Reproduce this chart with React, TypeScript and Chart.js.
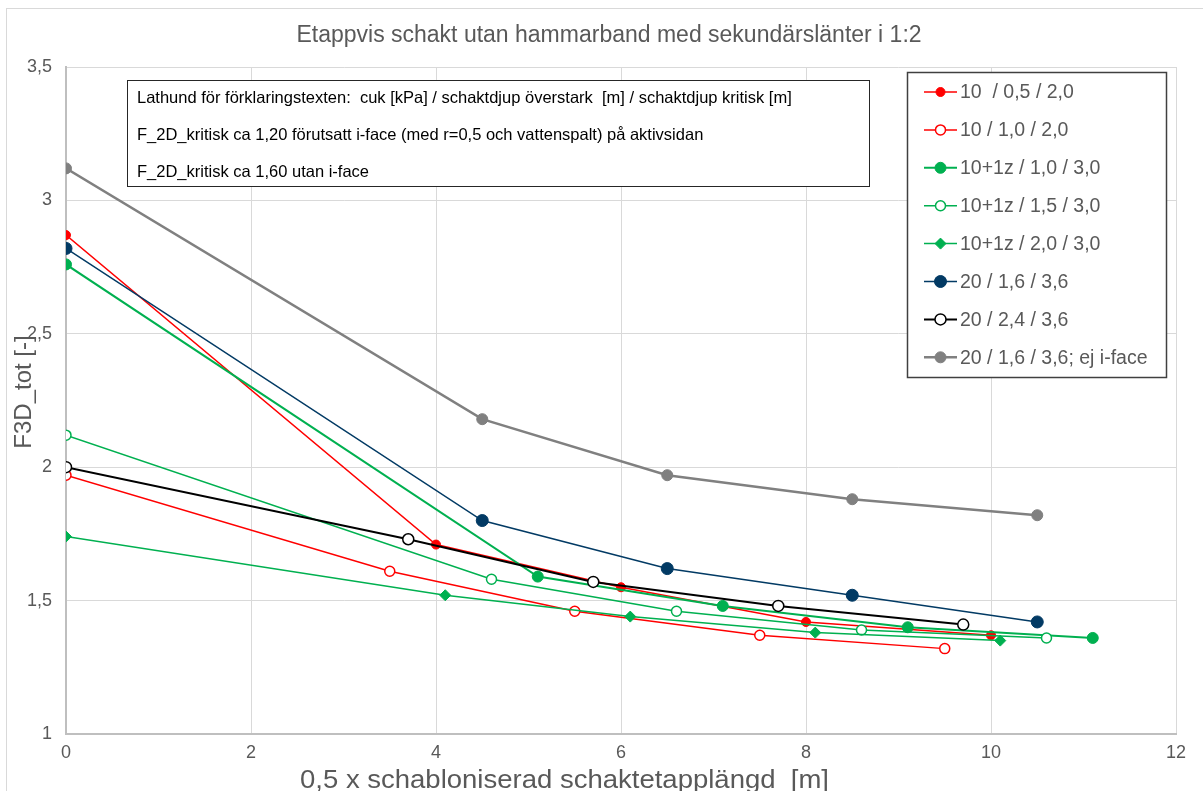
import React, { useEffect, useRef } from 'react';
import { Chart, registerables } from 'chart.js';

Chart.register(...registerables);

const W = 1203;
const H = 791;

const chartTitle = 'Etappvis schakt utan hammarband med sekundärslänter i 1:2';
const xTitle = '0,5 x schabloniserad schaktetapplängd  [m]';
const yTitle = 'F3D_tot [-]';
const noteLines = [
  'Lathund för förklaringstexten:  cuk [kPa] / schaktdjup överstark  [m] / schaktdjup kritisk [m]',
  'F_2D_kritisk ca 1,20 förutsatt i-face (med r=0,5 och vattenspalt) på aktivsidan',
  'F_2D_kritisk ca 1,60 utan i-face',
];

const xTicks = [0, 2, 4, 6, 8, 10, 12];
const yTicks = [1, 1.5, 2, 2.5, 3, 3.5];

const seriesLabels = [
  '10  / 0,5 / 2,0',
  '10 / 1,0 / 2,0',
  '10+1z / 1,0 / 3,0',
  '10+1z / 1,5 / 3,0',
  '10+1z / 2,0 / 3,0',
  '20 / 1,6 / 3,6',
  '20 / 2,4 / 3,6',
  '20 / 1,6 / 3,6; ej i-face',
];

const s1x = [0, 4, 6, 8, 10];
const s1y = [2.87, 1.71, 1.55, 1.42, 1.37];
const s2x = [0, 3.5, 5.5, 7.5, 9.5];
const s2y = [1.97, 1.61, 1.46, 1.37, 1.32];
const s3x = [0, 5.1, 7.1, 9.1, 11.1];
const s3y = [2.76, 1.59, 1.48, 1.4, 1.36];
const s4x = [0, 4.6, 6.6, 8.6, 10.6];
const s4y = [2.12, 1.58, 1.46, 1.39, 1.36];
const s5x = [0, 4.1, 6.1, 8.1, 10.1];
const s5y = [1.74, 1.52, 1.44, 1.38, 1.35];
const s6x = [0, 4.5, 6.5, 8.5, 10.5];
const s6y = [2.82, 1.8, 1.62, 1.52, 1.42];
const s7x = [0, 3.7, 5.7, 7.7, 9.7];
const s7y = [2.0, 1.73, 1.57, 1.48, 1.41];
const s8x = [0, 4.5, 6.5, 8.5, 10.5];
const s8y = [3.12, 2.18, 1.97, 1.88, 1.82];

const seriesX = [s1x, s2x, s3x, s4x, s5x, s6x, s7x, s8x];
const seriesY = [s1y, s2y, s3y, s4y, s5y, s6y, s7y, s8y];

const RED = '#FF0000';
const GREEN = '#00B050';
const NAVY = '#023A64';
const GRAY = '#808080';
const BLACK = '#000000';

type Style = { color: string; lw: number; r: number; fill: string; shape: string };
const styles: Style[] = [
  { color: RED, lw: 1.5, r: 4.5, fill: RED, shape: 'circle' },
  { color: RED, lw: 1.5, r: 5, fill: '#FFFFFF', shape: 'circle' },
  { color: GREEN, lw: 2, r: 5.5, fill: GREEN, shape: 'circle' },
  { color: GREEN, lw: 1.5, r: 5, fill: '#FFFFFF', shape: 'circle' },
  { color: GREEN, lw: 1.5, r: 5.5, fill: GREEN, shape: 'rectRot' },
  { color: NAVY, lw: 1.5, r: 6, fill: NAVY, shape: 'circle' },
  { color: BLACK, lw: 2, r: 5.5, fill: '#FFFFFF', shape: 'circle' },
  { color: GRAY, lw: 2.5, r: 5.5, fill: GRAY, shape: 'circle' },
];

const FONT = '"Liberation Sans", Arial, sans-serif';
const TEXT = '#595959';

const fmt = (v: number) => String(v).replace('.', ',');

function drawMarker(ctx: CanvasRenderingContext2D, s: Style, x: number, y: number) {
  ctx.beginPath();
  if (s.shape === 'rectRot') {
    ctx.moveTo(x, y - s.r);
    ctx.lineTo(x + s.r, y);
    ctx.lineTo(x, y + s.r);
    ctx.lineTo(x - s.r, y);
    ctx.closePath();
  } else {
    ctx.arc(x, y, s.r, 0, Math.PI * 2);
  }
  ctx.fillStyle = s.fill;
  ctx.fill();
  ctx.lineWidth = s.fill === '#FFFFFF' ? 1.5 : 1;
  ctx.strokeStyle = s.color;
  ctx.stroke();
}

function fitText(ctx: CanvasRenderingContext2D, text: string, cx: number, cy: number, width: number) {
  const m = ctx.measureText(text).width;
  const k = m > 0 ? width / m : 1;
  ctx.save();
  ctx.translate(cx, cy);
  ctx.scale(k, 1);
  ctx.textAlign = 'center';
  ctx.fillText(text, 0, 0);
  ctx.restore();
}

const overlayPlugin = {
  id: 'overlay',
  beforeDraw(chart: any) {
    const ctx: CanvasRenderingContext2D = chart.ctx;
    ctx.save();
    ctx.fillStyle = '#FFFFFF';
    ctx.fillRect(0, 0, chart.width, chart.height);
    ctx.strokeStyle = '#D9D9D9';
    ctx.lineWidth = 1;
    ctx.strokeRect(6.5, 8.5, 1300, 900);

    ctx.fillStyle = TEXT;
    ctx.textAlign = 'center';
    ctx.textBaseline = 'middle';
    ctx.font = `23px ${FONT}`;
    ctx.fillText(chartTitle, 609, 36);

    ctx.font = `25px ${FONT}`;
    fitText(ctx, xTitle, 564.5, 781, 529);

    ctx.font = `24px ${FONT}`;
    ctx.translate(24, 392);
    ctx.rotate(-Math.PI / 2);
    ctx.fillText(yTitle, 0, 0);
    ctx.restore();
  },
  afterDraw(chart: any) {
    const ctx: CanvasRenderingContext2D = chart.ctx;
    ctx.save();
    // note box
    ctx.fillStyle = '#FFFFFF';
    ctx.fillRect(127, 80, 742, 106);
    ctx.strokeStyle = '#262626';
    ctx.lineWidth = 1;
    ctx.strokeRect(127.5, 80.5, 742, 106);
    ctx.fillStyle = '#000000';
    ctx.font = `16.5px ${FONT}`;
    ctx.textAlign = 'left';
    ctx.textBaseline = 'middle';
    noteLines.forEach((t, i) => ctx.fillText(t, 137, 98 + i * 37));

    // legend box
    ctx.fillStyle = '#FFFFFF';
    ctx.fillRect(907, 72, 259, 305);
    ctx.strokeStyle = '#404040';
    ctx.lineWidth = 1.5;
    ctx.strokeRect(907.5, 72.5, 259, 305);
    ctx.font = `19.5px ${FONT}`;
    seriesLabels.forEach((label, i) => {
      const s = styles[i];
      const y = 92 + i * 37.9;
      ctx.beginPath();
      ctx.moveTo(924, y);
      ctx.lineTo(957, y);
      ctx.strokeStyle = s.color;
      ctx.lineWidth = s.lw;
      ctx.stroke();
      drawMarker(ctx, s, 940.5, y);
      ctx.fillStyle = TEXT;
      ctx.fillText(label, 960, y + 1);
    });
    ctx.restore();
  },
};

export default function App() {
  const ref = useRef<HTMLCanvasElement | null>(null);

  useEffect(() => {
    if (!ref.current) return;
    const datasets = seriesLabels.map((label, i) => {
      const s = styles[i];
      return {
        label,
        data: seriesX[i].map((x, j) => ({ x, y: seriesY[i][j] })),
        borderColor: s.color,
        backgroundColor: s.fill,
        borderWidth: s.lw,
        pointStyle: s.shape,
        pointRadius: s.r,
        pointBorderWidth: s.fill === '#FFFFFF' ? 1.5 : 1,
        pointBorderColor: s.color,
        pointBackgroundColor: s.fill,
        showLine: true,
        fill: false,
        tension: 0,
        order: seriesLabels.length - i,
      };
    });

    const chart = new Chart(ref.current, {
      type: 'scatter',
      data: { datasets },
      options: {
        animation: false,
        responsive: false,
        devicePixelRatio: 1,
        layout: { padding: { top: 67, right: 27, bottom: 0, left: 0 } },
        plugins: {
          legend: { display: false },
          tooltip: { enabled: false },
          title: { display: false },
        },
        scales: {
          x: {
            type: 'linear',
            min: xTicks[0],
            max: xTicks[xTicks.length - 1],
            afterBuildTicks: (scale: any) => {
              scale.ticks = xTicks.map((v) => ({ value: v }));
            },
            afterFit: (scale: any) => {
              scale.height = 57;
            },
            ticks: {
              callback: (v: any) => fmt(v),
              color: TEXT,
              font: { family: FONT, size: 18 },
              padding: 8,
              maxRotation: 0,
            },
            grid: { color: '#D9D9D9', lineWidth: 1, drawTicks: false },
            border: { color: '#BFBFBF', width: 2 },
          },
          y: {
            type: 'linear',
            min: yTicks[0],
            max: yTicks[yTicks.length - 1],
            afterBuildTicks: (scale: any) => {
              scale.ticks = yTicks.map((v) => ({ value: v }));
            },
            afterFit: (scale: any) => {
              scale.width = 66;
            },
            ticks: {
              callback: (v: any) => fmt(v),
              color: TEXT,
              font: { family: FONT, size: 18 },
              padding: 14,
            },
            grid: { color: '#D9D9D9', lineWidth: 1, drawTicks: false },
            border: { color: '#BFBFBF', width: 2 },
          },
        },
      },
      plugins: [overlayPlugin],
    } as any);

    return () => chart.destroy();
  }, []);

  return (
    <div style={{ position: 'fixed', left: 0, top: 0, width: W, height: H, overflow: 'hidden', background: '#fff' }}>
      <canvas ref={ref} width={W} height={H} style={{ width: W, height: H, display: 'block' }} />
    </div>
  );
}
